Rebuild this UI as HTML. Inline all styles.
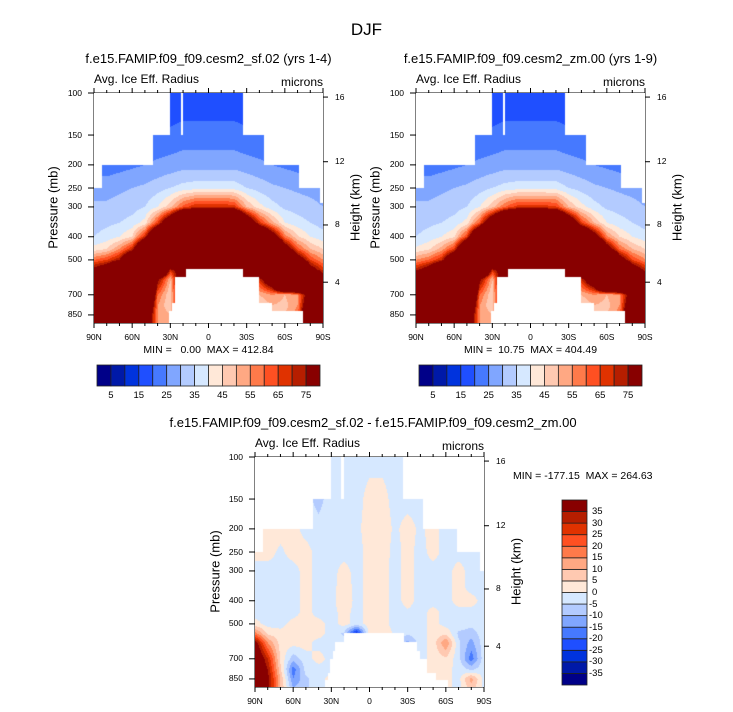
<!DOCTYPE html>
<html><head><meta charset="utf-8">
<style>
html,body{margin:0;padding:0;background:#fff;}
body{width:733px;height:712px;position:relative;overflow:hidden;font-family:"Liberation Sans",Arial,sans-serif;color:#000;}
.t{position:absolute;white-space:pre;line-height:1;}
canvas{position:absolute;}
svg{position:absolute;left:0;top:0;}
</style></head>
<body>
<div class="t" style="left:0;width:733px;text-align:center;top:21px;font-size:17px;">DJF</div>
<svg id="ax" width="733" height="712"></svg>
<script>
// ---- data ----
const latitudes = [90,80,70,60,50,40,30,20,10,0,-10,-20,-30,-40,-50,-60,-70,-80,-90];
const pressureLevels = [100,150,200,250,300,350,400,450,500,550,600,700,775,850,925];
const pressureTicks = [100,150,200,250,300,400,500,700,850];
const heightTicks = [16,12,8,4];
const heightTickPressures = [104,194,357,620];
const latTicks = [90,60,30,0,-30,-60,-90];
const latTickLabels = ['90N','60N','30N','0','30S','60S','90S'];
const palette = ['#000088','#0019a8','#0033dd','#1f4fff','#4679ff','#80a6ff','#b3cbff','#d6e8ff','#ffe8d8','#ffc9b1','#ffa883','#ff7a4a','#ff5022','#e03200','#b61e00','#880000'];
const absLevels = [5,10,15,20,25,30,35,40,45,50,55,60,65,70,75];
const absLabels = ['5','15','25','35','45','55','65','75'];
const diffLevels = [-35,-30,-25,-20,-15,-10,-5,0,5,10,15,20,25,30,35];

const sfField = [
[12,12,13,13,14,15,16,16,16,16,16,16,16,16,15,14,13,12,12],
[18,18,19,19,20,21,21,22,22,22,22,22,21,21,20,20,19,18,18],
[22,22,23,24,25,26,27,28,28,28,28,28,27,26,25,24,23,22,22],
[28,28,29,30,31,33,35,37,38,38,38,38,35,33,31,30,29,28,27],
[31,31,32,33,35,40,48,62,70,70,70,68,50,42,37,34,33,32,30],
[33,34,35,37,42,65,100,150,150,150,150,150,100,68,52,40,37,35,33],
[35,37,40,45,70,120,200,200,200,200,200,200,200,120,90,58,46,40,37],
[42,45,55,70,120,200,200,200,200,200,200,200,200,200,150,90,62,50,45],
[60,65,75,110,200,200,200,200,200,200,200,200,200,200,200,150,90,65,55],
[80,90,120,200,200,150,70,90,100,100,100,100,100,150,200,200,150,85,68],
[200,200,200,200,200,80,50,100,100,100,100,100,100,70,100,200,200,150,85],
[200,200,200,200,150,60,45,100,100,100,100,100,100,50,55,50,55,90,200],
[200,200,200,200,120,55,45,100,100,100,100,100,100,45,50,48,55,100,200],
[200,200,200,200,100,55,50,100,100,100,100,100,100,45,48,50,58,120,200],
[200,200,200,200,100,55,50,100,100,100,100,100,100,45,50,50,60,120,200]];

const zmField = [
[12,12,13,13,14,15,16,16,16,16,16,16,16,16,15,14,13,12,12],
[18,18,19,19,20,21,21,22,22,22,22,22,21,21,20,20,19,18,18],
[22,22,23,24,25,26,27,28,28,28,28,28,27,26,25,24,23,22,22],
[28,28,29,30,31,33,35,37,38,38,38,38,35,33,31,30,29,28,27],
[31,31,32,33,35,40,48,60,68,68,68,66,50,42,37,34,33,32,30],
[33,34,35,37,42,62,100,140,150,150,150,140,100,66,50,40,37,35,33],
[35,37,40,44,66,120,200,200,200,200,200,200,200,120,88,56,45,40,37],
[41,44,52,66,115,200,200,200,200,200,200,200,200,200,150,88,60,50,45],
[55,60,70,105,200,200,200,200,200,200,200,200,200,200,200,150,88,65,56],
[72,85,115,200,200,150,70,90,100,100,100,100,100,150,200,200,150,90,72],
[200,200,200,200,200,80,50,100,100,100,100,100,100,70,100,200,200,160,90],
[200,200,200,200,150,60,45,100,100,100,100,100,100,50,55,50,55,90,200],
[200,200,200,200,120,55,45,100,100,100,100,100,100,45,50,48,55,100,200],
[200,200,200,200,100,55,50,100,100,100,100,100,100,45,48,50,58,120,200],
[200,200,200,200,100,55,50,100,100,100,100,100,100,45,50,50,60,120,200]];

const diffField = [
[-2,-2,-2,-2,-2,-2,-2,-2,-2,-2,-2,-2,-2,-2,-2,-2,-2,-2,-2],
[-2,-2,-2,-2,-3,-7,-2,-2,-2,2,2,-2,-2,-2,-2,-2,-2,-2,-2],
[-2,2,2,2,-2,-3,-2,-2,-1,2,3,-1,2,-1,2,-2,-2,-2,-2],
[2,2,-1,2,2,-2,-2,-2,-2,2,3,-2,2,-2,2,-2,-2,-2,-2],
[-2,-2,-2,-2,2,-2,-2,2,-2,2,2,-2,2,-2,-2,-2,2,-2,-2],
[-2,-2,-2,-2,2,-2,-2,3,-2,2,2,-2,2,-2,-2,-2,2,-2,-2],
[-2,-2,-2,-2,2,-2,-2,4,-2,2,2,-2,2,-2,-2,-2,2,2,-2],
[-2,-2,-2,-2,2,-2,-2,2,-2,2,2,-2,-1,-2,2,-2,-2,-2,-2],
[2,-2,-2,2,2,2,-2,2,-2,2,2,-2,-2,-2,2,-2,-2,-3,-2],
[18,4,2,3,2,2,-2,-6,-30,3,4,-1,-4,-2,2,4,-6,-8,-2],
[40,15,3,2,2,-2,-2,-2,-10,2,2,-2,-12,-2,2,15,-4,-12,-2],
[50,30,4,-8,-2,2,-2,-2,-2,-2,-2,-2,-2,-2,2,4,-3,-18,-2],
[50,35,6,-18,-3,-2,-2,-2,-2,-2,-2,-2,-2,-2,2,2,-2,-6,-2],
[50,38,10,-15,-6,-2,2,-2,-2,-2,-2,-2,-2,-2,2,2,-2,12,-2],
[50,38,10,-10,-6,-2,2,-2,-2,-2,-2,-2,-2,-2,2,2,-2,8,-2]];

// missing-data regions: [pTop, pBottom, latNorth, latSouth]
const topMask = [[0,150,90,30.3],[0,150,-27.1,-90],[0,150,21.6,20.0],[150,200,90,43.6],[150,200,-44,-90],
 [200,250,90,83.7],[200,250,-71.1,-90],[250,290,-88,-90],[545,2000,17.7,-27],[590,2000,26,-40],[760,2000,29,-50],[820,2000,31,-74]];
const diffMask = [[0,150,90,30.5],[0,150,-26.6,-90],[0,150,22.4,19.8],[150,200,90,44.2],[150,200,-42.3,-90],
 [200,250,90,83.5],[200,250,-68.5,-90],[250,300,-86.8,-90],[545,2000,20,-27],[595,2000,27,-37],[650,2000,29,-40],[700,2000,31,-45],[800,2000,33,-52],[860,2000,35,-62]];

// ---- rendering ----
const W=229,H=230,K=103.7;
const NS='http://www.w3.org/2000/svg';
const svg=document.getElementById('ax');
function line(x1,y1,x2,y2,name){const l=document.createElementNS(NS,'line');
 l.setAttribute('x1',x1);l.setAttribute('y1',y1);l.setAttribute('x2',x2);l.setAttribute('y2',y2);
 l.setAttribute('stroke','#000');l.setAttribute('stroke-width','1');
 
 
 svg.appendChild(l);}
function text(str,left,top,size,extra,name){const d=document.createElement('div');d.className='t';
 d.textContent=str;d.style.left=left+'px';d.style.top=top+'px';d.style.fontSize=size+'px';
 if(extra)d.style.cssText+=extra;
 
 
 document.body.appendChild(d);return d;}
const lnL=pressureLevels.map(p=>Math.log(p));
function interp(field,lat,p){
 let fi=(latitudes[0]-lat)/10; let i=Math.min(17,Math.max(0,Math.floor(fi))); let t=Math.min(1,Math.max(0,fi-i));
 let lp=Math.log(p); let j=0; while(j<lnL.length-2 && lp>lnL[j+1]) j++;
 let u=(lp-lnL[j])/(lnL[j+1]-lnL[j]); u=Math.min(1,Math.max(0,u));
 const a=field[j][i],b=field[j][i+1],c=field[j+1][i],d=field[j+1][i+1];
 return (a*(1-t)+b*t)*(1-u)+(c*(1-t)+d*t)*u;}
function levelIndex(v,levels){let k=0;while(k<levels.length && v>=levels[k])k++;return k;}
function masked(m,lat,p){for(const r of m){if(p>=r[0]&&p<r[1]&&lat<=r[2]&&lat>=r[3])return true;}return false;}
function hex(c){return [parseInt(c.slice(1,3),16),parseInt(c.slice(3,5),16),parseInt(c.slice(5,7),16)];}
const rgb=palette.map(hex);

function panel(cfg){
 const {x0,y0,field,levels,mask,name}=cfg;
 const xOf=lat=>x0+(90-lat)/180*W, yOf=p=>y0+K*Math.log(p/100);
 const cv=document.createElement('canvas');cv.width=W;cv.height=H;
 cv.style.left=x0+'px';cv.style.top=y0+'px';
 
 
 document.body.appendChild(cv);
 const ctx=cv.getContext('2d');const img=ctx.createImageData(W,H);
 for(let py=0;py<H;py++){const p=100*Math.exp((py+0.5)/K);
  for(let px=0;px<W;px++){const lat=90-(px+0.5)/W*180;let o=(py*W+px)*4;
   if(masked(mask,lat,p)){img.data[o]=255;img.data[o+1]=255;img.data[o+2]=255;img.data[o+3]=255;continue;}
   const c=rgb[levelIndex(interp(field,lat,p),levels)];
   img.data[o]=c[0];img.data[o+1]=c[1];img.data[o+2]=c[2];img.data[o+3]=255;}}
 ctx.putImageData(img,0,0);
 // frame
 line(x0,y0,x0+W,y0,name+'-frame-top');line(x0,y0+H,x0+W,y0+H,name+'-frame-bottom');
 line(x0,y0,x0,y0+H,name+'-frame-left');line(x0+W,y0,x0+W,y0+H,name+'-frame-right');
 // lat ticks
 for(let lat=90;lat>=-90;lat-=10){const x=xOf(lat);const major=lat%30===0;const L=major?5:3;
  line(x,y0,x,y0-L,name+'-top-tick');line(x,y0+H,x,y0+H+L,name+'-bottom-tick');}
 latTicks.forEach((lat,i)=>{const d=text(latTickLabels[i],xOf(lat)-20,y0+H+10,8.5,'width:40px;text-align:center;',name+'-x-tick-label');});
 pressureTicks.forEach(p=>{const y=yOf(p);line(x0-6,y,x0,y,name+'-pressure-tick');
  text(String(p),x0-45,y-4.5,8.5,'width:33px;text-align:right;',name+'-y-tick-label');});
 heightTicks.forEach((h,i)=>{const y=yOf(heightTickPressures[i]);line(x0+W,y,x0+W+5,y,name+'-height-tick');
  text(String(h),x0+W+12,y-4.5,8.5,'',name+'-height-tick-label');});
 text('Pressure (mb)',cfg.plx-60,y0+H/2-7,13,'width:120px;text-align:center;transform:rotate(-90deg);',name+'-y-axis-title');
 text('Height (km)',x0+W+32-60,y0+H/2-7,13,'width:120px;text-align:center;transform:rotate(-90deg);',name+'-right-axis-title');
 text('Avg. Ice Eff. Radius',x0,y0-20,12,'',name+'-variable-label');
 text('microns',x0+W-60,y0-17,12,'width:60px;text-align:right;',name+'-units-label');
 text(cfg.title,x0+W/2-200,y0-41,13,'width:400px;text-align:center;',name+'-title');
}
panel({x0:94,y0:93,field:sfField,levels:absLevels,mask:topMask,name:'sf02-panel',plx:53,title:'f.e15.FAMIP.f09_f09.cesm2_sf.02 (yrs 1-4)'});
panel({x0:416,y0:93,field:zmField,levels:absLevels,mask:topMask,name:'zm00-panel',plx:375,title:'f.e15.FAMIP.f09_f09.cesm2_zm.00 (yrs 1-9)'});
panel({x0:255,y0:457,field:diffField,levels:diffLevels,mask:diffMask,name:'diff-panel',plx:215,title:'f.e15.FAMIP.f09_f09.cesm2_sf.02 - f.e15.FAMIP.f09_f09.cesm2_zm.00'});

text('MIN =   0.00  MAX = 412.84',94,344.5,10.5,'width:229px;text-align:center;','sf02-minmax');
text('MIN =  10.75  MAX = 404.49',416,344.5,10.5,'width:229px;text-align:center;','zm00-minmax');
text('MIN = -177.15  MAX = 264.63',513,471,10.5,'','diff-minmax');

function hbar(x,y,w,h,name){const bw=w/palette.length;
 palette.forEach((c,i)=>{const r=document.createElementNS(NS,'rect');
  r.setAttribute('x',x+i*bw);r.setAttribute('y',y);r.setAttribute('width',bw);r.setAttribute('height',h);
  r.setAttribute('fill',c);r.setAttribute('stroke','#222');r.setAttribute('stroke-width','0.8');
  
  
  svg.appendChild(r);});
 absLabels.forEach((s,i)=>{const bx=x+(2*i+1)*bw;text(s,bx-15,y+h+5,9.5,'width:30px;text-align:center;',name+'-label');});}
hbar(97,365,223,21,'sf02-colorbar');
hbar(419,365,223,21,'zm00-colorbar');
(function(){const x=562,y=500,w=25,h=185,bh=h/palette.length;
 palette.forEach((c,i)=>{const r=document.createElementNS(NS,'rect');
  r.setAttribute('x',x);r.setAttribute('y',y+(palette.length-1-i)*bh);r.setAttribute('width',w);r.setAttribute('height',bh);
  r.setAttribute('fill',c);r.setAttribute('stroke','#222');r.setAttribute('stroke-width','0.8');
  
  
  svg.appendChild(r);});
 diffLevels.forEach((v,i)=>{const by=y+h-(i+1)*bh;text(String(v),v<0?589:592,by-4.5,9.5,'','diff-colorbar-label');});})();
</script>
</body></html>
